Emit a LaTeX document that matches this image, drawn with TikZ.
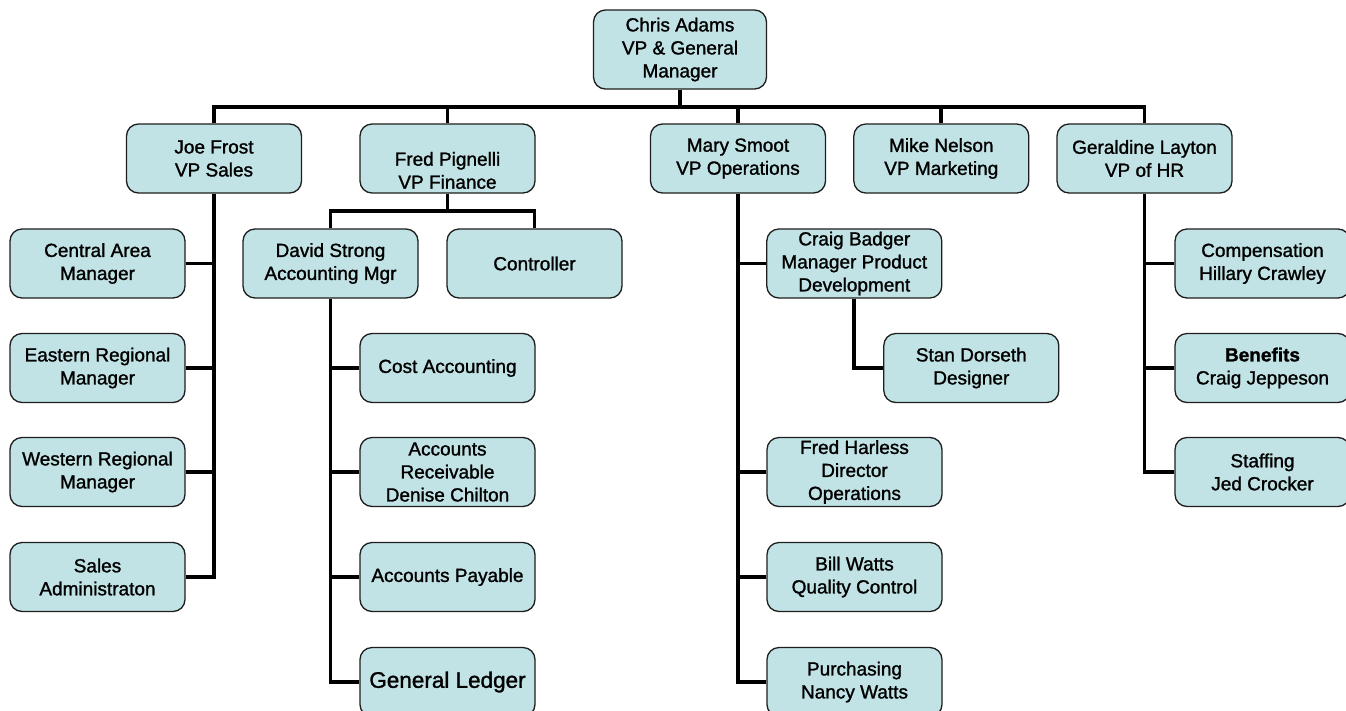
\documentclass[tikz,border=0pt]{standalone}
\usepackage{fontspec}
\setmainfont{Liberation Sans}
\newfontfamily\heavyfont{Liberation Sans}[FakeBold=1.3]
\definecolor{boxfill}{HTML}{C2E3E5}
\definecolor{boxline}{HTML}{1E1E1E}
\begin{document}
\begin{tikzpicture}[x=1pt,y=-1pt,
  orgbox/.style={draw=boxline, fill=boxfill, rounded corners=12pt, line width=1.3pt,
    minimum width=175pt, minimum height=69pt, inner sep=0pt, align=center,
    font=\heavyfont\fontsize{19}{23}\selectfont},
  conn/.style={line width=3.8pt, draw=black}]
\useasboundingbox (0,0) rectangle (1346,710);
\clip (0,0) rectangle (1346,710);
\fill[white] (0,0) rectangle (1346,710);
\coordinate (bar) at (0,107);
\coordinate (finbar) at (0,211);
% level 1
\node[orgbox, minimum width=173pt, minimum height=79pt] (chris) at (680,49.5) {Chris Adams\\VP \& General\\Manager};
% level 2
\node[orgbox] (joe)  at (214,158.5) {Joe Frost\\VP Sales};
\node[orgbox] (fred) at (447.5,158.5) {\rule{0pt}{37.6pt}Fred Pignelli\\VP Finance};
\node[orgbox] (mary) at (738,158.5) {Mary Smoot\\VP Operations};
\node[orgbox] (mike) at (941.3,158.5) {Mike Nelson\\VP Marketing};
\node[orgbox] (hr)   at (1144.5,158.5) {Geraldine Layton\\VP of HR};
% sales
\node[orgbox] (central) at (97.5,263.5) {Central Area\\Manager};
\node[orgbox] (eastern) at (97.5,368) {Eastern Regional\\Manager};
\node[orgbox] (western) at (97.5,472) {Western Regional\\Manager};
\node[orgbox] (sales)   at (97.5,577) {Sales\\Administraton};
% finance
\node[orgbox] (david)      at (330.5,263.5) {David Strong\\Accounting Mgr};
\node[orgbox] (controller) at (534.5,263.5) {Controller};
\node[orgbox] (cost) at (447.5,368) {Cost Accounting};
\node[orgbox] (ar)   at (447.5,472) {Accounts\\Receivable\\Denise Chilton};
\node[orgbox] (ap)   at (447.5,577) {Accounts Payable};
\node[orgbox, font=\heavyfont\fontsize{22.5}{27}\selectfont] (gl) at (447.5,682) {General Ledger};
% operations
\node[orgbox] (craig)   at (854.3,263.5) {Craig Badger\\Manager Product\\Development};
\node[orgbox] (stan)    at (971.3,368) {Stan Dorseth\\Designer};
\node[orgbox] (harless) at (854.5,472) {Fred Harless\\Director\\Operations};
\node[orgbox] (bill)    at (854.5,577) {Bill Watts\\Quality Control};
\node[orgbox] (purch)   at (854.5,682) {Purchasing\\Nancy Watts};
% HR
\node[orgbox] (comp)     at (1262.5,263.5) {Compensation\\Hillary Crawley};
\node[orgbox] (benefits) at (1262.5,368) {{\bfseries Benefits}\\Craig Jeppeson};
\node[orgbox] (staffing) at (1262.5,472) {Staffing\\Jed Crocker};
% connectors
\draw[conn] (chris.south) -- (chris.south |- bar);
\draw[conn] (joe.north) -- (joe.north |- bar) -- (hr.north |- bar) -- (hr.north);
\foreach \n in {fred,mary,mike} \draw[conn] (\n.north) -- (\n.north |- bar);
\draw[conn] (joe.south) -- (joe.south |- sales.east) -- (sales.east);
\foreach \n in {central,eastern,western} \draw[conn] (\n.east) -- (\n.east -| joe.south);
\draw[conn] (fred.south) -- (fred.south |- finbar);
\draw[conn] (david.north) -- (david.north |- finbar) -- (controller.north |- finbar) -- (controller.north);
\draw[conn] (david.south) -- (david.south |- gl.west) -- (gl.west);
\foreach \n in {cost,ar,ap} \draw[conn] (\n.west) -- (\n.west -| david.south);
\draw[conn] (mary.south) -- (mary.south |- purch.west) -- (purch.west);
\foreach \n in {craig,harless,bill} \draw[conn] (\n.west) -- (\n.west -| mary.south);
\draw[conn] (craig.south) -- (craig.south |- stan.west) -- (stan.west);
\draw[conn] (hr.south) -- (hr.south |- staffing.west) -- (staffing.west);
\foreach \n in {comp,benefits} \draw[conn] (\n.west) -- (\n.west -| hr.south);
\end{tikzpicture}
\end{document}
